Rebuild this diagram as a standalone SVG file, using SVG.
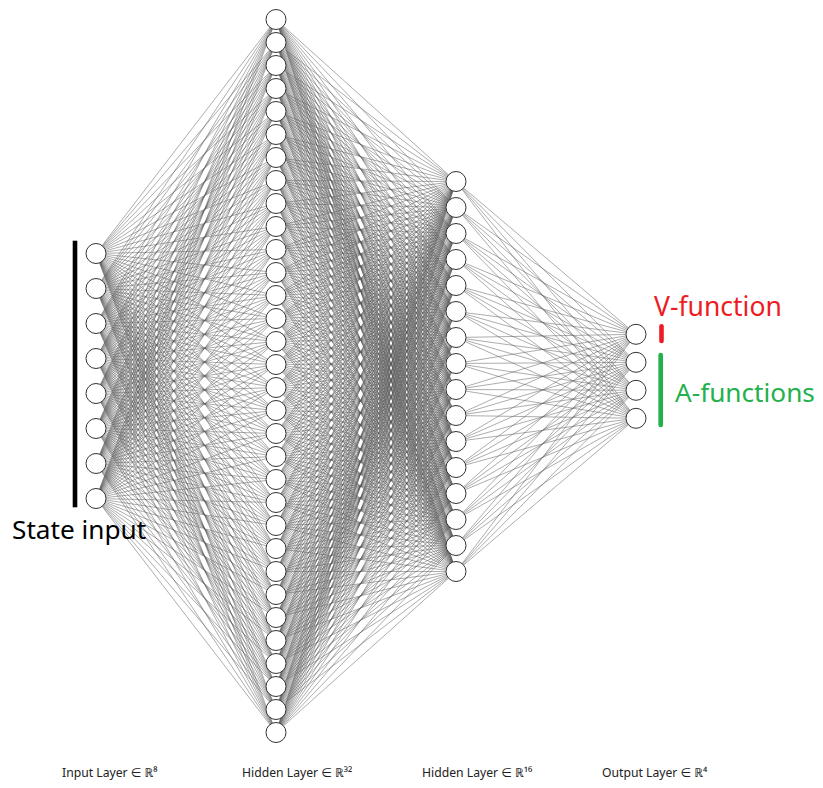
<svg xmlns="http://www.w3.org/2000/svg" width="823" height="788" viewBox="0 0 823 788">
<style>
.e{fill:none;stroke:#5a5a5a;stroke-width:0.5;stroke-linejoin:round}
.n{fill:#fff;stroke:#333;stroke-width:1}
.lbl{font-family:"Noto Sans","DejaVu Sans",sans-serif;font-size:12.2px;fill:#222}
.big{font-family:"Noto Sans","DejaVu Sans",sans-serif}
</style>
<rect width="823" height="788" fill="#fff"/>
<g id="connectors">
<path class="e" d="M96 253.5 276 19.5 96 288.5 276 42.5 96 253.5 276 65.5 96 288.5 276 88.5 96 253.5 276 111.5 96 288.5 276 134.5 96 253.5 276 157.5 96 288.5 276 180.5 96 253.5 276 203.5 96 288.5 276 226.5 96 253.5 276 249.5 96 288.5 276 272.5 96 253.5 276 295.5 96 288.5 276 318.5 96 253.5 276 341.5 96 288.5 276 364.5 96 253.5 276 387.5 96 288.5 276 410.5 96 253.5 276 433.5 96 288.5 276 456.5 96 253.5 276 479.5 96 288.5 276 502.5 96 253.5 276 525.5 96 288.5 276 548.5 96 253.5 276 571.5 96 288.5 276 594.5 96 253.5 276 617.5 96 288.5 276 640.5 96 253.5 276 663.5 96 288.5 276 686.5 96 253.5 276 709.5 96 288.5 276 732.5 96 253.5
M96 323.5 276 19.5 96 358.5 276 42.5 96 323.5 276 65.5 96 358.5 276 88.5 96 323.5 276 111.5 96 358.5 276 134.5 96 323.5 276 157.5 96 358.5 276 180.5 96 323.5 276 203.5 96 358.5 276 226.5 96 323.5 276 249.5 96 358.5 276 272.5 96 323.5 276 295.5 96 358.5 276 318.5 96 323.5 276 341.5 96 358.5 276 364.5 96 323.5 276 387.5 96 358.5 276 410.5 96 323.5 276 433.5 96 358.5 276 456.5 96 323.5 276 479.5 96 358.5 276 502.5 96 323.5 276 525.5 96 358.5 276 548.5 96 323.5 276 571.5 96 358.5 276 594.5 96 323.5 276 617.5 96 358.5 276 640.5 96 323.5 276 663.5 96 358.5 276 686.5 96 323.5 276 709.5 96 358.5 276 732.5 96 323.5
M96 393.5 276 19.5 96 428.5 276 42.5 96 393.5 276 65.5 96 428.5 276 88.5 96 393.5 276 111.5 96 428.5 276 134.5 96 393.5 276 157.5 96 428.5 276 180.5 96 393.5 276 203.5 96 428.5 276 226.5 96 393.5 276 249.5 96 428.5 276 272.5 96 393.5 276 295.5 96 428.5 276 318.5 96 393.5 276 341.5 96 428.5 276 364.5 96 393.5 276 387.5 96 428.5 276 410.5 96 393.5 276 433.5 96 428.5 276 456.5 96 393.5 276 479.5 96 428.5 276 502.5 96 393.5 276 525.5 96 428.5 276 548.5 96 393.5 276 571.5 96 428.5 276 594.5 96 393.5 276 617.5 96 428.5 276 640.5 96 393.5 276 663.5 96 428.5 276 686.5 96 393.5 276 709.5 96 428.5 276 732.5 96 393.5
M96 463.5 276 19.5 96 498.5 276 42.5 96 463.5 276 65.5 96 498.5 276 88.5 96 463.5 276 111.5 96 498.5 276 134.5 96 463.5 276 157.5 96 498.5 276 180.5 96 463.5 276 203.5 96 498.5 276 226.5 96 463.5 276 249.5 96 498.5 276 272.5 96 463.5 276 295.5 96 498.5 276 318.5 96 463.5 276 341.5 96 498.5 276 364.5 96 463.5 276 387.5 96 498.5 276 410.5 96 463.5 276 433.5 96 498.5 276 456.5 96 463.5 276 479.5 96 498.5 276 502.5 96 463.5 276 525.5 96 498.5 276 548.5 96 463.5 276 571.5 96 498.5 276 594.5 96 463.5 276 617.5 96 498.5 276 640.5 96 463.5 276 663.5 96 498.5 276 686.5 96 463.5 276 709.5 96 498.5 276 732.5 96 463.5"/>
<path class="e" d="M456 181.5 276 19.5 456 207.5 276 42.5 456 181.5 276 65.5 456 207.5 276 88.5 456 181.5 276 111.5 456 207.5 276 134.5 456 181.5 276 157.5 456 207.5 276 180.5 456 181.5 276 203.5 456 207.5 276 226.5 456 181.5 276 249.5 456 207.5 276 272.5 456 181.5 276 295.5 456 207.5 276 318.5 456 181.5 276 341.5 456 207.5 276 364.5 456 181.5 276 387.5 456 207.5 276 410.5 456 181.5 276 433.5 456 207.5 276 456.5 456 181.5 276 479.5 456 207.5 276 502.5 456 181.5 276 525.5 456 207.5 276 548.5 456 181.5 276 571.5 456 207.5 276 594.5 456 181.5 276 617.5 456 207.5 276 640.5 456 181.5 276 663.5 456 207.5 276 686.5 456 181.5 276 709.5 456 207.5 276 732.5 456 181.5
M456 233.5 276 19.5 456 259.5 276 42.5 456 233.5 276 65.5 456 259.5 276 88.5 456 233.5 276 111.5 456 259.5 276 134.5 456 233.5 276 157.5 456 259.5 276 180.5 456 233.5 276 203.5 456 259.5 276 226.5 456 233.5 276 249.5 456 259.5 276 272.5 456 233.5 276 295.5 456 259.5 276 318.5 456 233.5 276 341.5 456 259.5 276 364.5 456 233.5 276 387.5 456 259.5 276 410.5 456 233.5 276 433.5 456 259.5 276 456.5 456 233.5 276 479.5 456 259.5 276 502.5 456 233.5 276 525.5 456 259.5 276 548.5 456 233.5 276 571.5 456 259.5 276 594.5 456 233.5 276 617.5 456 259.5 276 640.5 456 233.5 276 663.5 456 259.5 276 686.5 456 233.5 276 709.5 456 259.5 276 732.5 456 233.5
M456 285.5 276 19.5 456 311.5 276 42.5 456 285.5 276 65.5 456 311.5 276 88.5 456 285.5 276 111.5 456 311.5 276 134.5 456 285.5 276 157.5 456 311.5 276 180.5 456 285.5 276 203.5 456 311.5 276 226.5 456 285.5 276 249.5 456 311.5 276 272.5 456 285.5 276 295.5 456 311.5 276 318.5 456 285.5 276 341.5 456 311.5 276 364.5 456 285.5 276 387.5 456 311.5 276 410.5 456 285.5 276 433.5 456 311.5 276 456.5 456 285.5 276 479.5 456 311.5 276 502.5 456 285.5 276 525.5 456 311.5 276 548.5 456 285.5 276 571.5 456 311.5 276 594.5 456 285.5 276 617.5 456 311.5 276 640.5 456 285.5 276 663.5 456 311.5 276 686.5 456 285.5 276 709.5 456 311.5 276 732.5 456 285.5
M456 337.5 276 19.5 456 363.5 276 42.5 456 337.5 276 65.5 456 363.5 276 88.5 456 337.5 276 111.5 456 363.5 276 134.5 456 337.5 276 157.5 456 363.5 276 180.5 456 337.5 276 203.5 456 363.5 276 226.5 456 337.5 276 249.5 456 363.5 276 272.5 456 337.5 276 295.5 456 363.5 276 318.5 456 337.5 276 341.5 456 363.5 276 364.5 456 337.5 276 387.5 456 363.5 276 410.5 456 337.5 276 433.5 456 363.5 276 456.5 456 337.5 276 479.5 456 363.5 276 502.5 456 337.5 276 525.5 456 363.5 276 548.5 456 337.5 276 571.5 456 363.5 276 594.5 456 337.5 276 617.5 456 363.5 276 640.5 456 337.5 276 663.5 456 363.5 276 686.5 456 337.5 276 709.5 456 363.5 276 732.5 456 337.5
M456 389.5 276 19.5 456 415.5 276 42.5 456 389.5 276 65.5 456 415.5 276 88.5 456 389.5 276 111.5 456 415.5 276 134.5 456 389.5 276 157.5 456 415.5 276 180.5 456 389.5 276 203.5 456 415.5 276 226.5 456 389.5 276 249.5 456 415.5 276 272.5 456 389.5 276 295.5 456 415.5 276 318.5 456 389.5 276 341.5 456 415.5 276 364.5 456 389.5 276 387.5 456 415.5 276 410.5 456 389.5 276 433.5 456 415.5 276 456.5 456 389.5 276 479.5 456 415.5 276 502.5 456 389.5 276 525.5 456 415.5 276 548.5 456 389.5 276 571.5 456 415.5 276 594.5 456 389.5 276 617.5 456 415.5 276 640.5 456 389.5 276 663.5 456 415.5 276 686.5 456 389.5 276 709.5 456 415.5 276 732.5 456 389.5
M456 441.5 276 19.5 456 467.5 276 42.5 456 441.5 276 65.5 456 467.5 276 88.5 456 441.5 276 111.5 456 467.5 276 134.5 456 441.5 276 157.5 456 467.5 276 180.5 456 441.5 276 203.5 456 467.5 276 226.5 456 441.5 276 249.5 456 467.5 276 272.5 456 441.5 276 295.5 456 467.5 276 318.5 456 441.5 276 341.5 456 467.5 276 364.5 456 441.5 276 387.5 456 467.5 276 410.5 456 441.5 276 433.5 456 467.5 276 456.5 456 441.5 276 479.5 456 467.5 276 502.5 456 441.5 276 525.5 456 467.5 276 548.5 456 441.5 276 571.5 456 467.5 276 594.5 456 441.5 276 617.5 456 467.5 276 640.5 456 441.5 276 663.5 456 467.5 276 686.5 456 441.5 276 709.5 456 467.5 276 732.5 456 441.5
M456 493.5 276 19.5 456 519.5 276 42.5 456 493.5 276 65.5 456 519.5 276 88.5 456 493.5 276 111.5 456 519.5 276 134.5 456 493.5 276 157.5 456 519.5 276 180.5 456 493.5 276 203.5 456 519.5 276 226.5 456 493.5 276 249.5 456 519.5 276 272.5 456 493.5 276 295.5 456 519.5 276 318.5 456 493.5 276 341.5 456 519.5 276 364.5 456 493.5 276 387.5 456 519.5 276 410.5 456 493.5 276 433.5 456 519.5 276 456.5 456 493.5 276 479.5 456 519.5 276 502.5 456 493.5 276 525.5 456 519.5 276 548.5 456 493.5 276 571.5 456 519.5 276 594.5 456 493.5 276 617.5 456 519.5 276 640.5 456 493.5 276 663.5 456 519.5 276 686.5 456 493.5 276 709.5 456 519.5 276 732.5 456 493.5
M456 545.5 276 19.5 456 571.5 276 42.5 456 545.5 276 65.5 456 571.5 276 88.5 456 545.5 276 111.5 456 571.5 276 134.5 456 545.5 276 157.5 456 571.5 276 180.5 456 545.5 276 203.5 456 571.5 276 226.5 456 545.5 276 249.5 456 571.5 276 272.5 456 545.5 276 295.5 456 571.5 276 318.5 456 545.5 276 341.5 456 571.5 276 364.5 456 545.5 276 387.5 456 571.5 276 410.5 456 545.5 276 433.5 456 571.5 276 456.5 456 545.5 276 479.5 456 571.5 276 502.5 456 545.5 276 525.5 456 571.5 276 548.5 456 545.5 276 571.5 456 571.5 276 594.5 456 545.5 276 617.5 456 571.5 276 640.5 456 545.5 276 663.5 456 571.5 276 686.5 456 545.5 276 709.5 456 571.5 276 732.5 456 545.5"/>
<path class="e" d="M636 334.3 456 181.5 636 362.3 456 207.5 636 334.3 456 233.5 636 362.3 456 259.5 636 334.3 456 285.5 636 362.3 456 311.5 636 334.3 456 337.5 636 362.3 456 363.5 636 334.3 456 389.5 636 362.3 456 415.5 636 334.3 456 441.5 636 362.3 456 467.5 636 334.3 456 493.5 636 362.3 456 519.5 636 334.3 456 545.5 636 362.3 456 571.5 636 334.3
M636 390.3 456 181.5 636 418.3 456 207.5 636 390.3 456 233.5 636 418.3 456 259.5 636 390.3 456 285.5 636 418.3 456 311.5 636 390.3 456 337.5 636 418.3 456 363.5 636 390.3 456 389.5 636 418.3 456 415.5 636 390.3 456 441.5 636 418.3 456 467.5 636 390.3 456 493.5 636 418.3 456 519.5 636 390.3 456 545.5 636 418.3 456 571.5 636 390.3"/>
</g>
<g id="input-layer">
<g id="in-0"><circle class="n" cx="96" cy="253.5" r="10"/></g>
<g id="in-1"><circle class="n" cx="96" cy="288.5" r="10"/></g>
<g id="in-2"><circle class="n" cx="96" cy="323.5" r="10"/></g>
<g id="in-3"><circle class="n" cx="96" cy="358.5" r="10"/></g>
<g id="in-4"><circle class="n" cx="96" cy="393.5" r="10"/></g>
<g id="in-5"><circle class="n" cx="96" cy="428.5" r="10"/></g>
<g id="in-6"><circle class="n" cx="96" cy="463.5" r="10"/></g>
<g id="in-7"><circle class="n" cx="96" cy="498.5" r="10"/></g>
</g>
<g id="hidden1-layer">
<g id="h1-0"><circle class="n" cx="276" cy="19.5" r="10"/></g>
<g id="h1-1"><circle class="n" cx="276" cy="42.5" r="10"/></g>
<g id="h1-2"><circle class="n" cx="276" cy="65.5" r="10"/></g>
<g id="h1-3"><circle class="n" cx="276" cy="88.5" r="10"/></g>
<g id="h1-4"><circle class="n" cx="276" cy="111.5" r="10"/></g>
<g id="h1-5"><circle class="n" cx="276" cy="134.5" r="10"/></g>
<g id="h1-6"><circle class="n" cx="276" cy="157.5" r="10"/></g>
<g id="h1-7"><circle class="n" cx="276" cy="180.5" r="10"/></g>
<g id="h1-8"><circle class="n" cx="276" cy="203.5" r="10"/></g>
<g id="h1-9"><circle class="n" cx="276" cy="226.5" r="10"/></g>
<g id="h1-10"><circle class="n" cx="276" cy="249.5" r="10"/></g>
<g id="h1-11"><circle class="n" cx="276" cy="272.5" r="10"/></g>
<g id="h1-12"><circle class="n" cx="276" cy="295.5" r="10"/></g>
<g id="h1-13"><circle class="n" cx="276" cy="318.5" r="10"/></g>
<g id="h1-14"><circle class="n" cx="276" cy="341.5" r="10"/></g>
<g id="h1-15"><circle class="n" cx="276" cy="364.5" r="10"/></g>
<g id="h1-16"><circle class="n" cx="276" cy="387.5" r="10"/></g>
<g id="h1-17"><circle class="n" cx="276" cy="410.5" r="10"/></g>
<g id="h1-18"><circle class="n" cx="276" cy="433.5" r="10"/></g>
<g id="h1-19"><circle class="n" cx="276" cy="456.5" r="10"/></g>
<g id="h1-20"><circle class="n" cx="276" cy="479.5" r="10"/></g>
<g id="h1-21"><circle class="n" cx="276" cy="502.5" r="10"/></g>
<g id="h1-22"><circle class="n" cx="276" cy="525.5" r="10"/></g>
<g id="h1-23"><circle class="n" cx="276" cy="548.5" r="10"/></g>
<g id="h1-24"><circle class="n" cx="276" cy="571.5" r="10"/></g>
<g id="h1-25"><circle class="n" cx="276" cy="594.5" r="10"/></g>
<g id="h1-26"><circle class="n" cx="276" cy="617.5" r="10"/></g>
<g id="h1-27"><circle class="n" cx="276" cy="640.5" r="10"/></g>
<g id="h1-28"><circle class="n" cx="276" cy="663.5" r="10"/></g>
<g id="h1-29"><circle class="n" cx="276" cy="686.5" r="10"/></g>
<g id="h1-30"><circle class="n" cx="276" cy="709.5" r="10"/></g>
<g id="h1-31"><circle class="n" cx="276" cy="732.5" r="10"/></g>
</g>
<g id="hidden2-layer">
<g id="h2-0"><circle class="n" cx="456" cy="181.5" r="10"/></g>
<g id="h2-1"><circle class="n" cx="456" cy="207.5" r="10"/></g>
<g id="h2-2"><circle class="n" cx="456" cy="233.5" r="10"/></g>
<g id="h2-3"><circle class="n" cx="456" cy="259.5" r="10"/></g>
<g id="h2-4"><circle class="n" cx="456" cy="285.5" r="10"/></g>
<g id="h2-5"><circle class="n" cx="456" cy="311.5" r="10"/></g>
<g id="h2-6"><circle class="n" cx="456" cy="337.5" r="10"/></g>
<g id="h2-7"><circle class="n" cx="456" cy="363.5" r="10"/></g>
<g id="h2-8"><circle class="n" cx="456" cy="389.5" r="10"/></g>
<g id="h2-9"><circle class="n" cx="456" cy="415.5" r="10"/></g>
<g id="h2-10"><circle class="n" cx="456" cy="441.5" r="10"/></g>
<g id="h2-11"><circle class="n" cx="456" cy="467.5" r="10"/></g>
<g id="h2-12"><circle class="n" cx="456" cy="493.5" r="10"/></g>
<g id="h2-13"><circle class="n" cx="456" cy="519.5" r="10"/></g>
<g id="h2-14"><circle class="n" cx="456" cy="545.5" r="10"/></g>
<g id="h2-15"><circle class="n" cx="456" cy="571.5" r="10"/></g>
</g>
<g id="output-layer">
<g id="out-0"><circle class="n" cx="636" cy="334.3" r="10"/></g>
<g id="out-1"><circle class="n" cx="636" cy="362.3" r="10"/></g>
<g id="out-2"><circle class="n" cx="636" cy="390.3" r="10"/></g>
<g id="out-3"><circle class="n" cx="636" cy="418.3" r="10"/></g>
</g>
<g id="annotations">
<rect x="72.7" y="240.7" width="4.6" height="266.6" fill="#000"/>
<text class="big" x="12" y="538.5" font-size="26.2" fill="#000">State input</text>
<line x1="661.5" y1="326.3" x2="661.5" y2="341" stroke="#ed1c24" stroke-width="4.6" stroke-linecap="round"/>
<text class="big" x="654" y="316" font-size="26.5" fill="#ed1c24">V-function</text>
<line x1="660.7" y1="355" x2="660.7" y2="425" stroke="#22b14c" stroke-width="4.7" stroke-linecap="round"/>
<text class="big" x="675" y="401.7" font-size="26.2" fill="#22b14c">A-functions</text>
</g>
<g id="layer-labels">
<text class="lbl" x="62" y="777.3">Input Layer ∈ ℝ⁸</text>
<text class="lbl" x="242" y="777.3">Hidden Layer ∈ ℝ³²</text>
<text class="lbl" x="422" y="777.3">Hidden Layer ∈ ℝ¹⁶</text>
<text class="lbl" x="602" y="777.3">Output Layer ∈ ℝ⁴</text>
</g>
</svg>
